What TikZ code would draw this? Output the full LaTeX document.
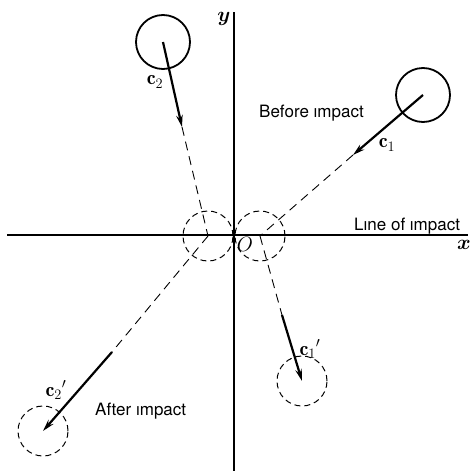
\documentclass[tikz,border=0pt]{standalone}
\usepackage{fontspec}
\usepackage{bm}
\usetikzlibrary{arrows.meta}
\newfontfamily\heros{TeX Gyre Heros}

\begin{document}
\begin{tikzpicture}[x=1pt, y=-1pt,
    ball/.style={circle, draw, line width=1.8pt, minimum size=54pt, inner sep=0pt},
    ghost/.style={circle, draw, line width=1pt, dash pattern=on 6pt off 4pt, minimum size=50pt, inner sep=0pt},
    vel/.style={line width=2.2pt, -{Stealth[length=12pt,width=6.5pt]}},
    trail/.style={line width=0.9pt, dash pattern=on 9pt off 6pt},
    lbl/.style={font=\fontsize{20}{24}\selectfont, inner sep=0pt},
    txt/.style={font=\heros\fontsize{17}{20}\selectfont, anchor=base west, inner sep=0pt}]
    \useasboundingbox (0,0) rectangle (470,471);

    % Axes
    \coordinate (xl) at (7,235);
    \coordinate (xr) at (468,235);
    \coordinate (yt) at (234,12);
    \coordinate (yb) at (234,471);
    \draw[line width=1.3pt] (xl) -- (xr);
    \draw[line width=1.3pt] (yt) -- (yb);
    \node[lbl] (xlab) at (464,245) {$\bm{x}$};
    \node[lbl] (ylab) at (224,19) {$\bm{y}$};
    \node[lbl] (olab) at (245,244) {$O$};

    % Spheres
    \node[ball] (b2) at (163,42) {};
    \node[ball] (b1) at (423,95) {};
    \node[ghost] (p2) at (208,236) {};
    \node[ghost] (p1) at (260,236) {};
    \node[ghost] (a1) at (302,381) {};
    \node[ghost] (a2) at (43,431) {};

    % Velocity vectors
    \coordinate (c2tip) at (182,127);
    \coordinate (c1tip) at (353,155);
    \coordinate (c1s) at (282,315);
    \coordinate (c2s) at (112,352);

    \draw[vel] (b2.center) -- (c2tip);
    \draw[vel] (b1.center) -- (c1tip);
    \draw[trail] (c2tip) -- (p2.center);
    \draw[trail] (c1tip) -- (p1.center);
    \draw[trail] (p1.center) -- (c1s);
    \draw[trail] (p2.center) -- (c2s);
    \draw[vel] (c1s) -- (a1.center);
    \draw[vel] (c2s) -- (a2.center);

    \node[lbl] (c2lab) at (155,82) {$\mathbf{c}_2$};
    \node[lbl] (c1lab) at (387,145) {$\mathbf{c}_1$};
    \node[lbl] (c1plab) at (310,349) {$\mathbf{c}_1{}'$};
    \node[lbl] (c2plab) at (56,390) {$\mathbf{c}_2{}'$};

    % Captions
    \node[txt] (before) at (259,117) {Before {\i}mpact};
    \node[txt] (line) at (354,230) {L{\i}ne of {\i}mpact};
    \node[txt] (after) at (95,415) {After {\i}mpact};
\end{tikzpicture}
\end{document}
